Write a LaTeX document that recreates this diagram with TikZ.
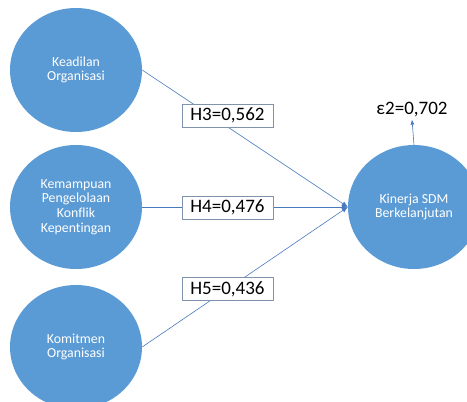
\documentclass[tikz,border=0pt]{standalone}
\usepackage{fontspec}
\setmainfont{Carlito}[Ligatures=NoCommon]
\usetikzlibrary{shapes.geometric,arrows.meta}
\definecolor{varblue}{HTML}{5B9BD5}
\definecolor{pathblue}{HTML}{4A78BE}
\definecolor{boxline}{HTML}{7F93AE}

\begin{document}
\begin{tikzpicture}[x=1pt,y=-1pt,
    latent/.style={ellipse,fill=varblue,minimum width=132pt,minimum height=124pt,
        inner sep=0pt,align=center,text=white,font=\fontsize{13.8}{14.6}\selectfont},
    coef/.style={draw=boxline,fill=white,minimum width=91pt,minimum height=23pt,
        inner sep=0pt,font=\fontsize{19}{20}\selectfont},
    path/.style={draw=pathblue,line width=0.6pt}]
    \useasboundingbox (0,0) rectangle (467,402);

    \node[latent] (keadilan) at (76,70) {Keadilan\\Organisasi};
    \node[latent] (konflik) at (76,207) {Kemampuan\\Pengelolaan\\Konflik\\Kepentingan};
    \node[latent] (komitmen) at (76,347) {Komitmen\\Organisasi};
    \node[latent] (kinerja) at (414,207) {Kinerja SDM\\Berkelanjutan};

    \draw[path,-{Latex[length=6pt,width=5pt]}] (keadilan.east) -- (kinerja.west);
    \draw[path,-{Latex[length=6pt,width=5pt]}] (konflik.east) -- (kinerja.west);
    \draw[path,-{Latex[length=6pt,width=5pt]}] (komitmen.east) -- (kinerja.west);

    \node[coef] (h3) at (227.5,115.5) {H3=0,562};
    \node[coef] (h4) at (227.5,207.5) {H4=0,476};
    \node[coef] (h5) at (227.5,289) {H5=0,436};

    \node[font=\fontsize{19}{20}\selectfont,inner sep=2pt] (eps) at (412,110) {ε2=0,702};
    \draw[path,-{Latex[length=5pt,width=4pt]}] (kinerja.north) -- (eps.south);
\end{tikzpicture}
\end{document}
